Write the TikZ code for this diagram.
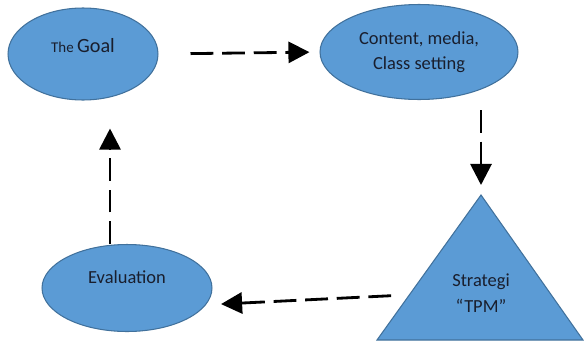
\documentclass[tikz,border=0pt]{standalone}
\usepackage{fontspec}
\setmainfont{Carlito}
\usetikzlibrary{arrows.meta,shapes.geometric}

\definecolor{bluefill}{RGB}{91,155,213}
\definecolor{blueline}{RGB}{65,113,156}
\definecolor{textink}{RGB}{25,30,45}

\begin{document}
\begin{tikzpicture}[
    x = 0.02cm,
    y = -0.02cm,
    >={Triangle[length=12pt,width=12pt]},
    blob/.style = {
      draw = blueline,
      fill = bluefill,
      line width = 0.6pt
    },
    bubble/.style = {
      blob,
      ellipse,
      inner sep = 0pt,
      text = textink,
      align = center,
      font = \fontsize{10.5}{14.5}\selectfont
    },
    inside/.style = {
      text = textink,
      font = \fontsize{10.5}{14.5}\selectfont
    },
    flow/.style = {
      ->,
      line width = 1.6pt,
      dash pattern = on 13pt off 5pt
    }
  ]
  \useasboundingbox (0,0) rectangle (584,345);

  \node[bubble, minimum width=3cm, minimum height=1.84cm,
    label={[inside, yshift=5pt]center:{\fontsize{8.5}{10}\selectfont The \fontsize{11.5}{14}\selectfont Goal}}]
    (goal) at (83,54) {};
  \node[bubble, minimum width=3.96cm, minimum height=1.9cm] (content) at (419,52) {Content, media,\\Class setting};
  \node[bubble, minimum width=3.4cm, minimum height=1.74cm,
    label={[inside, yshift=6pt]center:Evaluation}] (eval) at (127,288) {};

  \coordinate (tip) at (481,195);
  \draw[blob] (377,340) -- (tip) -- (583,340) -- cycle;
  \node[inside, align=center] (tpm) at (481,293) {Strategi\\“TPM”};

  \coordinate (up) at (110,0);

  \draw[flow, shorten <=0.64cm, shorten >=0.2cm] (goal.east) -- (content.west);
  \draw[flow, shorten <=0.2cm, shorten >=0.2cm] (content.south -| tip) -- (tip);
  \draw[flow, shorten <=1.1cm, shorten >=0.3cm] (tpm.west) -- (eval.-12);
  \draw[flow, shorten >=0.56cm] (eval.north -| up) -- (goal.south -| up);

\end{tikzpicture}
\end{document}
